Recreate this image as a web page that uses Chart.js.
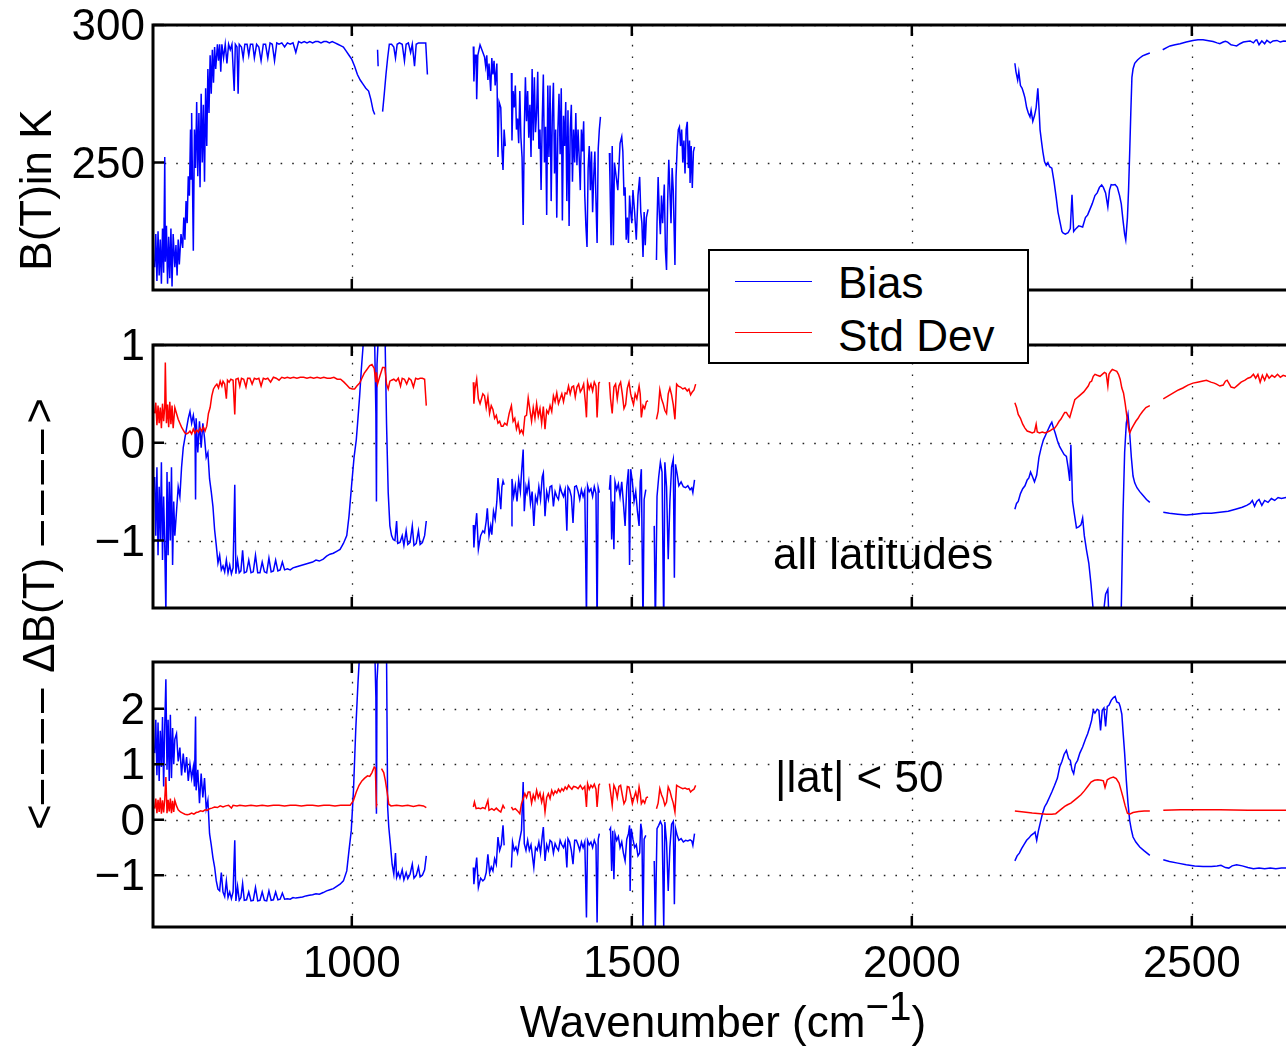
<!DOCTYPE html>
<html>
<head>
<meta charset="utf-8">
<title>Bias and Std Dev vs wavenumber</title>
<script src="https://cdn.jsdelivr.net/npm/chart.js@4.4.1/dist/chart.umd.min.js"></script>
<style>
  html, body { margin: 0; padding: 0; background: #fff; overflow: hidden; }
  #figure { position: relative; width: 1286px; height: 1047px; overflow: hidden;
    font-family: "Liberation Sans", Arial, Helvetica, sans-serif; color: #000; }
  .panel { position: absolute; left: 0; }
  .txt { position: absolute; font-size: 44px; line-height: 52px; white-space: nowrap; z-index: 6; }
  .ylab { position: absolute; font-size: 44px; line-height: 52px; white-space: nowrap;
    transform: translate(-50%, -50%) rotate(-90deg); }
  .dash { letter-spacing: 6px; }
  #legend { position: absolute; left: 708px; top: 249px; width: 321px; height: 115px;
    box-sizing: border-box; border: 2.5px solid #000; background: #fff; z-index: 5; }
  .swatch { position: absolute; height: 0; width: 77px; border-top: 1.5px solid; z-index: 6; }
  sup { font-size: 0.92em; vertical-align: baseline; position: relative; top: -0.42em; line-height: 0; }
</style>
</head>
<body>
<div id="figure">
  <canvas id="topChart" class="panel" width="1330" height="345" style="top:-15px"></canvas>
  <canvas id="allChart" class="panel" width="1330" height="343" style="top:305px"></canvas>
  <canvas id="latChart" class="panel" width="1330" height="425" style="top:622px"></canvas>

  <div class="ylab" style="left:36px; top:190px">B(T)in K</div>
  <div class="ylab" style="left:39px; top:614px">&lt;<span class="dash">&ndash;&ndash;&ndash;&ndash;</span> &Delta;B(T) <span class="dash">&ndash;&ndash;&ndash;&ndash;</span>&gt;</div>

  <div class="txt" style="left:773px; top:528px">all latitudes</div>
  <div class="txt" style="left:775px; top:751px">|lat| &lt; 50</div>
  <div class="txt" style="left:723px; top:996px; transform:translateX(-50%)">Wavenumber (cm<sup>&minus;1</sup>)</div>

  <div id="legend"></div>
  <div class="swatch" style="left:735px; top:281px; border-color:#0000ff"></div>
  <div class="txt" style="left:838px; top:257px">Bias</div>
  <div class="swatch" style="left:735px; top:332px; border-color:#ff0000"></div>
  <div class="txt" style="left:838px; top:310px">Std Dev</div>
</div>

<script>
// axis settings
const xTicks = [1000, 1500, 2000, 2500];
const topTicks = [250, 300];
const allTicks = [-1, 0, 1];
const latTicks = [-1, 0, 1, 2];
const xRange = [645, 2711];
const topRange = [203.7, 300];
const allRange = [-1.69, 1.0];
const latRange = [-1.93, 2.84];

// [wavenumber, value]; null value = no data
const biasTop = [
  [648,212],[650,224],[652,207],[654,225],[656,209],[658,222],[660,206],[662,226],[664,210],[666,252],
  [667,214],[669,227],[671,206],[673,223],[675,208],[677,226],[679,205],[681,224],[684,212],[686,220],
  [688,209],[690,222],[692,213],[695,224],[698,219],[700,230],[702,222],[704,236],[706,228],[708,245],
  [710,238],[712,262],[713,244],[714,268],[717,218],[719,262],[721,248],[723,272],[725,245],[727,268],
  [729,241],[731,275],[733,250],[735,271],[737,243],[739,277],[741,256],[743,284],[745,268],[747,289],
  [749,275],[751,291],[753,279],[755,292],[757,284],[760,293],[762,287],[764,293],[766,283],[768,293],
  [771,288],[774,293],[777,286],[780,293],[783,291],[786,293],[790,276],[792,293],[795,292],[797,275],
  [799,293],[803,292],[806,288],[809,293],[813,293],[816,289],[819,293],[823,293],[826,288],[830,293],
  [834,292],[838,287],[842,293],[846,293],[850,288],[854,293.5],[858,293],[862,287],[866,293.5],[870,293],
  [875,293.5],[880,292],[885,293.5],[890,293],[895,293.5],[900,290],[905,294],[910,293.5],[915,294],[920,293.5],
  [925,294],[930,293.5],[935,294],[940,294],[945,293.5],[950,294],[955,294],[960,293.5],[965,294],[970,293.5],
  [975,293],[980,292.5],[985,292],[990,290.5],[995,289],[1000,287.5],[1005,285],[1010,282],[1015,280],[1020,278.5],
  [1025,277],[1030,276],[1034,273],[1038,269],[1041,267.5],[1044,null],[1046,291],[1047,285],[1050,null],
  [1055,268.5],[1058,275],[1061,282],[1064,288],[1067,293],[1071,293],[1075,292],[1078,288],[1081,293],[1085,293.5],
  [1090,293],[1094,287],[1097,293],[1101,293.5],[1105,290],[1108,293],[1112,285],[1115,293],[1119,293.5],[1123,293.5],
  [1128,293.5],[1132,293.5],[1135,282],[1175,null],
  [1217,292.2],[1218,279.5],[1220,289],[1222,289],[1223,273],[1225,289],[1229,292.8],[1237,288.4],[1239,285],[1241,289],
  [1243,280],[1245,286],[1248,276],[1250,288],[1252,282],[1254,287],[1256,278],[1259,286],[1261,252],[1263,272],
  [1266,270],[1268,255],[1270,247.3],[1272,262],[1274,256],[1278,null],
  [1285,282.6],[1286,258],[1288,276],[1290,270],[1292,278],[1294,262],[1296,266],[1298,257],[1300,276],[1302,259],
  [1304,252],[1306,227.3],[1308,262],[1310,281],[1312,265],[1314,276],[1316,259],[1318,271],[1320,252],[1322,284],
  [1324,258],[1326,281],[1328,261],[1330,268],[1332,283],[1334,255],[1336,262],[1338,240],[1340,265],[1342,282],
  [1344,250],[1346,263],[1348,231],[1350,278],[1352,252],[1354,278],[1356,236],[1358,267],[1360,279],[1362,246],
  [1364,262],[1366,230],[1368,262],[1370,275],[1372,253],[1374,277],[1376,229],[1378,267],[1380,256],[1382,272],
  [1384,236],[1386,269],[1388,227],[1390,262],[1392,271],[1394,243],[1396,262],[1398,250],[1400,268],[1402,249],
  [1404,262],[1406,252],[1408,240],[1410,262],[1412,254],[1414,265],[1416,238],[1418,227],[1420,219.3],[1422,248],
  [1424,256],[1426,240],[1428,254],[1430,232],[1432,245],[1434,254],[1436,236],[1438,220.8],[1440,255],[1442,262],
  [1444,266.6],[1452,null],
  [1460,253.5],[1461,243.7],[1463,220],[1465,256],[1467,220],[1469,250],[1472,245],[1475,240],[1479,257],[1482,259.4],
  [1484,254],[1486,238],[1488,241],[1490,222],[1492,230],[1494,220.8],[1496,238],[1498,232],[1500,228],[1502,240],
  [1505,232],[1508,222],[1511,238],[1514,244.8],[1516,232],[1518,228],[1520,215.7],[1522,232],[1524,220],[1526,230],
  [1529,233],[1536,null],
  [1544,214.6],[1545,228],[1547,244.8],[1549,232],[1551,224],[1553,238],[1555,228],[1558,242],[1560,218],[1562,211],
  [1564,236],[1566,251],[1568,240],[1570,228],[1572,248],[1574,240],[1577,212.8],[1579,245],[1581,255.7],[1583,262],
  [1585,263],[1587,256],[1589,262],[1591,250],[1593,258],[1595,246],[1597,262],[1599,264.8],[1601,248],[1603,258],
  [1604,242.6],[1606,256],[1608,240.8],[1610,254],[1612,255.7],[1900,null],
  [2184,286.1],[2186,283],[2189,280],[2191,283],[2194,278],[2197,277],[2200,275],[2202,273.5],[2205,270],[2208,268],
  [2211,266.6],[2213,269],[2216,265],[2219,267],[2222,270],[2225,277],[2227,270],[2229,261.9],[2232,257],[2234,253.9],
  [2237,250.3],[2240,249],[2243,250],[2246,248.5],[2250,248],[2254,243],[2258,237],[2261,232],[2265,228],[2268,225],
  [2270,224.4],[2274,224],[2279,224.5],[2283,226],[2286,238.3],[2289,225],[2293,226],[2298,227],[2305,226.6],[2310,230],
  [2314,231],[2318,233],[2322,235],[2327,238],[2331,239],[2335,241],[2339,241.9],[2342,241],[2346,239],[2350,233.9],
  [2353,240],[2356,242],[2359,241.9],[2363,242],[2367,241],[2371,238],[2374,235],[2377,229.2],[2380,224],[2382,221.9],
  [2385,230],[2387,240],[2389,253.5],[2391,268],[2393,281],[2395,284],[2398,286.1],[2403,287.3],[2407,288],[2412,288.8],
  [2418,289.3],[2425,289.8],[2436,null],
  [2448,291],[2455,291.8],[2461,292.4],[2470,292.8],[2479,293.2],[2490,293.8],[2502,294.4],[2511,294.6],[2520,294.6],[2530,294.3],
  [2538,294],[2545,293.5],[2550,293.2],[2556,293.8],[2560,294.1],[2564,293.8],[2570,292.8],[2575,292.6],[2580,292.4],[2586,293.2],
  [2592,293.8],[2598,294],[2604,294.2],[2610,293.5],[2614,294.5],[2616,294.6],[2620,292.8],[2625,294.2],[2630,293.2],[2634,294.4],
  [2640,293.5],[2645,294.2],[2652,294.4],[2658,293.8],[2664,294.2],[2670,294.1],[2690,294.3],[2705,294.3]
];

const stdAll = [
  [648,0.30],[650,0.41],[652,0.18],[654,0.38],[656,0.20],[658,0.36],[660,0.15],[662,0.40],[664,0.22],[666,0.37],
  [667,0.82],[669,0.20],[671,0.39],[673,0.16],[675,0.42],[677,0.19],[679,0.38],[681,0.15],[684,0.36],[687,0.30],
  [690,0.24],[693,0.20],[696,0.16],[699,0.13],[702,0.10],[705,0.09],[708,0.10],[711,0.12],[714,0.09],[717,0.14],
  [720,0.10],[723,0.13],[726,0.11],[729,0.15],[732,0.12],[735,0.16],[738,0.12],[741,0.17],[744,0.30],[747,0.36],
  [750,0.48],[753,0.55],[756,0.58],[759,0.60],[762,0.56],[765,0.63],[768,0.58],[770,0.63],[773,0.60],[776,0.45],
  [778,0.64],[781,0.62],[784,0.65],[788,0.64],[791,0.29],[793,0.65],[797,0.66],[800,0.58],[803,0.66],[807,0.65],
  [811,0.57],[814,0.66],[818,0.66],[822,0.60],[826,0.66],[830,0.65],[834,0.66],[838,0.58],[842,0.66],[846,0.65],
  [850,0.66],[855,0.62],[860,0.67],[865,0.66],[870,0.64],[875,0.67],[880,0.66],[885,0.67],[890,0.66],[896,0.67],
  [902,0.66],[908,0.67],[914,0.67],[920,0.66],[926,0.67],[932,0.66],[938,0.67],[944,0.66],[950,0.67],[956,0.66],
  [962,0.66],[968,0.67],[974,0.65],[980,0.65],[986,0.62],[991,0.59],[996,0.56],[1001,0.55],[1005,0.55],[1009,0.58],
  [1014,0.61],[1018,0.66],[1022,0.71],[1027,0.75],[1032,0.79],[1036,0.80],[1040,0.76],[1043,0.62],[1044,0.72],[1046,0.60],
  [1050,0.68],[1055,0.77],[1059,0.77],[1062,0.60],[1065,0.55],[1068,0.63],[1071,0.64],[1075,0.65],[1079,0.63],[1083,0.66],
  [1087,0.58],[1090,0.66],[1094,0.65],[1098,0.60],[1102,0.66],[1106,0.64],[1110,0.57],[1114,0.66],[1118,0.65],[1122,0.66],
  [1126,0.66],[1130,0.65],[1133,0.38],[1175,null],
  [1217,0.62],[1218,0.40],[1220,0.55],[1223,0.65],[1226,0.45],[1229,0.40],[1234,0.50],[1237,0.48],[1240,0.36],[1243,0.47],
  [1246,0.30],[1249,0.38],[1252,0.34],[1255,0.25],[1258,0.28],[1261,0.20],[1264,0.22],[1267,0.17],[1270,0.17],[1273,0.20],
  [1277,0.18],[1281,0.30],[1285,0.38],[1288,0.22],[1291,0.25],[1294,0.14],[1297,0.20],[1300,0.10],[1303,0.13],[1306,0.09],
  [1309,0.27],[1312,0.28],[1315,0.46],[1318,0.34],[1321,0.22],[1324,0.36],[1327,0.25],[1330,0.40],[1333,0.27],[1336,0.35],
  [1339,0.20],[1342,0.37],[1345,0.14],[1348,0.33],[1351,0.30],[1354,0.38],[1357,0.32],[1360,0.48],[1363,0.42],[1366,0.51],
  [1369,0.40],[1372,0.45],[1375,0.50],[1378,0.42],[1381,0.51],[1384,0.50],[1387,0.58],[1390,0.50],[1393,0.57],[1396,0.58],
  [1399,0.47],[1402,0.57],[1405,0.60],[1408,0.52],[1411,0.55],[1414,0.60],[1417,0.42],[1419,0.26],[1421,0.62],[1424,0.55],
  [1427,0.60],[1430,0.53],[1433,0.62],[1436,0.58],[1438,0.26],[1441,0.61],[1443,0.62],[1452,null],
  [1460,0.62],[1462,0.45],[1465,0.30],[1468,0.57],[1471,0.60],[1474,0.45],[1477,0.58],[1480,0.62],[1483,0.50],[1486,0.35],
  [1489,0.39],[1492,0.56],[1495,0.62],[1498,0.50],[1500,0.45],[1503,0.39],[1506,0.50],[1509,0.45],[1513,0.58],[1515,0.50],
  [1517,0.26],[1520,0.38],[1523,0.35],[1526,0.42],[1529,0.43],[1536,null],
  [1544,0.24],[1547,0.32],[1550,0.54],[1553,0.45],[1556,0.40],[1559,0.33],[1562,0.30],[1565,0.50],[1568,0.56],[1571,0.49],
  [1574,0.39],[1577,0.24],[1580,0.60],[1583,0.58],[1587,0.57],[1591,0.55],[1595,0.56],[1599,0.53],[1602,0.55],[1605,0.49],
  [1608,0.52],[1611,0.54],[1614,0.60],[1900,null],
  [2184,0.41],[2187,0.36],[2190,0.29],[2194,0.25],[2198,0.19],[2202,0.15],[2206,0.12],[2211,0.11],[2215,0.10],[2219,0.11],
  [2222,0.19],[2224,0.11],[2228,0.10],[2233,0.11],[2238,0.10],[2242,0.11],[2246,0.12],[2251,0.14],[2255,0.15],[2259,0.18],
  [2263,0.22],[2266,0.24],[2270,0.28],[2273,0.31],[2276,0.31],[2279,0.28],[2282,0.26],[2285,0.32],[2288,0.38],[2291,0.44],
  [2295,0.46],[2299,0.48],[2303,0.50],[2307,0.52],[2311,0.55],[2315,0.58],[2318,0.62],[2321,0.63],[2324,0.68],[2327,0.70],
  [2331,0.69],[2336,0.68],[2340,0.70],[2344,0.72],[2347,0.71],[2350,0.58],[2352,0.70],[2355,0.73],[2358,0.75],[2362,0.74],
  [2366,0.73],[2369,0.70],[2372,0.65],[2375,0.56],[2378,0.51],[2381,0.40],[2384,0.27],[2387,0.15],[2389,0.10],[2392,0.14],
  [2396,0.18],[2400,0.22],[2404,0.25],[2407,0.28],[2412,0.32],[2418,0.36],[2425,0.38],[2436,null],
  [2449,0.45],[2458,0.48],[2467,0.51],[2476,0.54],[2484,0.56],[2493,0.59],[2502,0.61],[2510,0.62],[2518,0.63],[2526,0.64],
  [2534,0.62],[2540,0.61],[2544,0.60],[2550,0.58],[2556,0.59],[2560,0.63],[2563,0.64],[2567,0.60],[2570,0.57],[2576,0.56],
  [2582,0.59],[2588,0.62],[2595,0.64],[2600,0.66],[2605,0.67],[2610,0.70],[2614,0.66],[2618,0.70],[2622,0.62],[2626,0.69],
  [2630,0.64],[2634,0.70],[2638,0.66],[2643,0.69],[2648,0.67],[2653,0.70],[2658,0.67],[2663,0.69],[2668,0.68],[2690,0.68],[2705,0.68]
];

const biasAll = [
  [648,-0.35],[650,-0.95],[652,-0.25],[654,-1.15],[656,-0.45],[658,-1.00],[660,-0.20],[662,-1.20],[664,-0.55],[666,-1.05],
  [668,-1.75],[670,-0.30],[672,-1.15],[674,-0.40],[676,-1.00],[678,-0.25],[680,-1.25],[682,-0.60],[684,-0.95],[687,-0.70],
  [690,-0.45],[693,-0.55],[696,-0.25],[699,-0.05],[702,0.05],[705,0.15],[708,0.25],[711,0.32],[714,0.20],[717,0.28],
  [720,0.15],[721,-0.58],[722,0.25],[725,-0.10],[728,0.22],[731,-0.05],[734,0.20],[737,0.05],[740,-0.15],[743,-0.10],
  [746,-0.37],[749,-0.50],[752,-0.65],[755,-0.89],[758,-1.05],[761,-1.23],[764,-1.15],[767,-1.30],[770,-1.26],[773,-1.32],
  [776,-1.20],[779,-1.33],[782,-1.25],[785,-1.34],[788,-1.28],[791,-0.43],[793,-1.34],[796,-1.20],[799,-1.33],[802,-1.31],
  [805,-1.10],[808,-1.33],[812,-1.32],[816,-1.20],[820,-1.33],[824,-1.32],[828,-1.15],[832,-1.33],[836,-1.33],[840,-1.22],
  [844,-1.32],[848,-1.33],[852,-1.18],[856,-1.32],[860,-1.31],[864,-1.20],[868,-1.31],[872,-1.30],[876,-1.22],[880,-1.30],
  [885,-1.29],[890,-1.30],[895,-1.28],[900,-1.27],[906,-1.26],[912,-1.25],[918,-1.24],[924,-1.23],[930,-1.22],[936,-1.20],
  [942,-1.21],[949,-1.19],[955,-1.16],[961,-1.14],[967,-1.13],[973,-1.11],[979,-1.09],[985,-1.03],[991,-0.95],[995,-0.75],
  [1000,-0.41],[1004,-0.15],[1008,0.03],[1011,0.25],[1014,0.48],[1017,0.75],[1020,0.98],[1024,1.3],[1030,1.6],[1035,1.5],
  [1040,1.3],[1043,0.3],[1044,-0.6],[1045,0.8],[1050,1.4],[1055,1.6],[1059,1.2],[1062,0.2],[1065,-0.51],[1068,-0.85],
  [1071,-0.95],[1074,-0.99],[1077,-1.00],[1080,-0.80],[1082,-1.03],[1086,-1.02],[1090,-0.95],[1093,-1.05],[1097,-0.90],[1100,-1.04],
  [1104,-1.02],[1108,-0.85],[1111,-1.05],[1115,-1.03],[1119,-0.90],[1122,-1.04],[1126,-1.02],[1130,-0.95],[1133,-0.80],[1175,null],
  [1217,-0.84],[1218,-1.07],[1220,-0.90],[1223,-0.72],[1226,-1.09],[1230,-0.95],[1234,-0.90],[1237,-0.92],[1240,-0.80],[1242,-0.67],
  [1245,-0.95],[1248,-0.85],[1250,-0.94],[1253,-0.70],[1256,-0.78],[1259,-0.60],[1261,-0.36],[1264,-0.55],[1266,-0.68],[1268,-0.45],
  [1270,-0.39],[1272,-0.43],[1278,null],
  [1285,-0.85],[1286,-0.37],[1289,-0.55],[1292,-0.44],[1295,-0.60],[1298,-0.38],[1301,-0.50],[1303,-0.31],[1306,-0.07],[1308,-0.70],
  [1311,-0.45],[1313,-0.51],[1316,-0.40],[1319,-0.62],[1322,-0.50],[1325,-0.85],[1328,-0.55],[1331,-0.61],[1334,-0.45],[1337,-0.58],
  [1340,-0.35],[1342,-0.31],[1345,-0.75],[1348,-0.50],[1351,-0.58],[1354,-0.45],[1357,-0.44],[1360,-0.65],[1363,-0.50],[1366,-0.55],
  [1369,-0.58],[1372,-0.45],[1375,-0.51],[1378,-0.55],[1381,-0.48],[1384,-0.90],[1386,-0.45],[1389,-0.48],[1392,-0.55],[1395,-0.82],
  [1398,-0.45],[1401,-0.44],[1404,-0.50],[1407,-0.58],[1410,-0.48],[1413,-0.55],[1416,-0.49],[1419,-1.80],[1421,-0.44],[1424,-0.50],
  [1427,-0.47],[1430,-0.55],[1433,-0.45],[1436,-0.52],[1438,-1.90],[1440,-0.46],[1442,-0.51],[1452,null],
  [1460,-0.48],[1462,-0.33],[1464,-0.99],[1466,-0.60],[1468,-1.09],[1470,-0.40],[1473,-0.48],[1476,-0.42],[1479,-0.55],[1482,-0.40],
  [1485,-0.62],[1488,-0.85],[1491,-0.45],[1494,-0.27],[1496,-1.25],[1498,-0.27],[1501,-0.40],[1504,-0.60],[1507,-0.50],[1510,-0.70],
  [1513,-0.85],[1515,-0.40],[1517,-0.27],[1520,-1.90],[1522,-0.58],[1525,-0.48],[1532,null],
  [1540,-0.85],[1542,-1.90],[1545,-0.55],[1548,-0.35],[1551,-0.20],[1554,-0.30],[1557,-1.90],[1559,-0.20],[1562,-0.45],[1565,-1.19],
  [1568,-0.60],[1571,-0.25],[1574,-0.17],[1576,-1.38],[1578,-0.22],[1581,-0.32],[1584,-0.44],[1588,-0.40],[1592,-0.45],[1596,-0.46],
  [1600,-0.44],[1604,-0.48],[1607,-0.46],[1609,-0.51],[1612,-0.38],[1900,null],
  [2184,-0.68],[2187,-0.62],[2190,-0.60],[2194,-0.52],[2198,-0.47],[2202,-0.44],[2206,-0.38],[2209,-0.36],[2212,-0.30],[2215,-0.34],
  [2219,-0.40],[2223,-0.33],[2227,-0.15],[2231,-0.05],[2235,0.03],[2239,0.08],[2243,0.13],[2247,0.18],[2250,0.21],[2253,0.15],
  [2256,0.10],[2260,0.02],[2264,-0.04],[2268,-0.08],[2272,-0.12],[2276,-0.14],[2279,-0.25],[2282,-0.39],[2284,-0.02],[2287,-0.60],
  [2290,-0.72],[2294,-0.87],[2298,-0.86],[2302,-0.84],[2305,-0.77],[2308,-0.95],[2312,-1.10],[2316,-1.23],[2320,-1.45],[2324,-1.72],
  [2330,-1.85],[2336,-1.80],[2342,-1.75],[2346,-1.55],[2350,-1.50],[2352,-1.80],[2360,-1.85],[2370,-1.80],[2374,-1.70],[2377,-0.75],
  [2380,-0.10],[2383,0.20],[2386,0.29],[2389,0.10],[2392,-0.15],[2395,-0.34],[2398,-0.41],[2402,-0.46],[2407,-0.50],[2413,-0.54],
  [2419,-0.58],[2425,-0.61],[2436,null],
  [2449,-0.71],[2460,-0.72],[2475,-0.73],[2490,-0.74],[2505,-0.73],[2520,-0.72],[2535,-0.72],[2550,-0.71],[2565,-0.70],[2578,-0.68],
  [2590,-0.66],[2598,-0.64],[2604,-0.62],[2608,-0.59],[2612,-0.65],[2616,-0.60],[2620,-0.58],[2625,-0.64],[2630,-0.59],[2636,-0.61],
  [2642,-0.57],[2648,-0.59],[2654,-0.56],[2660,-0.57],[2668,-0.56],[2690,-0.56],[2705,-0.55]
];

const stdLat = [
  [648,0.20],[650,0.38],[652,0.12],[654,0.36],[656,0.14],[658,0.40],[660,0.11],[662,0.35],[664,0.13],[666,0.37],
  [668,0.77],[670,0.12],[672,0.36],[674,0.15],[676,0.38],[678,0.12],[680,0.34],[682,0.14],[684,0.35],[687,0.25],
  [690,0.18],[694,0.14],[698,0.12],[702,0.10],[706,0.09],[710,0.10],[714,0.12],[718,0.10],[722,0.13],[726,0.14],
  [730,0.16],[734,0.15],[738,0.18],[742,0.17],[746,0.20],[750,0.21],[755,0.23],[760,0.22],[765,0.25],[770,0.23],
  [775,0.25],[780,0.26],[785,0.21],[788,0.26],[795,0.25],[800,0.26],[810,0.25],[820,0.26],[830,0.25],[840,0.26],
  [850,0.25],[860,0.26],[870,0.26],[880,0.25],[890,0.26],[900,0.26],[910,0.25],[920,0.26],[930,0.26],[940,0.25],
  [950,0.26],[960,0.26],[970,0.25],[980,0.26],[990,0.26],[997,0.26],[1003,0.35],[1008,0.50],[1013,0.62],[1018,0.70],
  [1023,0.75],[1028,0.79],[1032,0.78],[1036,0.85],[1040,0.95],[1042,0.93],[1044,0.26],[1045,0.29],[1050,null],
  [1053,0.92],[1057,0.85],[1060,0.70],[1063,0.50],[1066,0.28],[1070,0.25],[1080,0.26],[1090,0.25],[1100,0.26],[1110,0.24],
  [1120,0.26],[1128,0.25],[1133,0.22],[1175,null],
  [1217,0.23],[1219,0.32],[1222,0.20],[1226,0.21],[1230,0.20],[1234,0.22],[1238,0.20],[1243,0.35],[1245,0.17],[1250,0.20],
  [1254,0.17],[1258,0.21],[1262,0.17],[1266,0.14],[1270,0.26],[1273,0.20],[1278,null],
  [1285,0.23],[1288,0.18],[1292,0.20],[1296,0.16],[1300,0.11],[1303,0.29],[1306,0.38],[1309,0.47],[1312,0.40],[1315,0.50],
  [1318,0.50],[1321,0.30],[1324,0.45],[1327,0.36],[1330,0.53],[1333,0.40],[1336,0.48],[1339,0.32],[1342,0.45],[1345,0.14],
  [1348,0.40],[1351,0.47],[1354,0.38],[1357,0.53],[1360,0.45],[1363,0.52],[1366,0.48],[1369,0.55],[1372,0.50],[1375,0.56],
  [1378,0.52],[1381,0.59],[1384,0.55],[1387,0.62],[1390,0.58],[1393,0.55],[1396,0.60],[1400,0.59],[1404,0.56],[1408,0.62],
  [1412,0.55],[1416,0.60],[1419,0.23],[1421,0.65],[1424,0.55],[1427,0.62],[1430,0.58],[1433,0.64],[1436,0.55],[1438,0.23],
  [1441,0.62],[1443,0.65],[1452,null],
  [1460,0.65],[1462,0.50],[1465,0.26],[1468,0.62],[1471,0.55],[1474,0.40],[1477,0.60],[1480,0.62],[1483,0.45],[1486,0.29],
  [1489,0.35],[1492,0.60],[1495,0.59],[1498,0.45],[1501,0.29],[1504,0.40],[1507,0.50],[1510,0.35],[1513,0.59],[1515,0.48],
  [1517,0.29],[1520,0.35],[1523,0.30],[1526,0.40],[1529,0.41],[1536,null],
  [1544,0.20],[1547,0.30],[1550,0.56],[1553,0.45],[1556,0.38],[1559,0.26],[1562,0.32],[1565,0.59],[1568,0.52],[1571,0.40],
  [1574,0.30],[1577,0.14],[1580,0.62],[1583,0.60],[1587,0.58],[1591,0.56],[1595,0.57],[1599,0.55],[1602,0.56],[1605,0.50],
  [1608,0.53],[1611,0.55],[1614,0.62],[1900,null],
  [2184,0.16],[2200,0.14],[2215,0.12],[2230,0.11],[2240,0.10],[2250,0.10],[2257,0.11],[2262,0.15],[2268,0.20],[2273,0.24],
  [2278,0.27],[2284,0.30],[2290,0.35],[2296,0.40],[2302,0.45],[2308,0.52],[2314,0.60],[2320,0.68],[2326,0.71],[2332,0.72],
  [2338,0.71],[2342,0.70],[2345,0.58],[2349,0.72],[2354,0.75],[2360,0.77],[2365,0.74],[2370,0.66],[2374,0.52],[2377,0.41],
  [2381,0.25],[2385,0.12],[2389,0.10],[2395,0.13],[2405,0.15],[2415,0.16],[2425,0.16],[2436,null],
  [2449,0.17],[2480,0.18],[2514,0.18],[2550,0.18],[2600,0.17],[2640,0.17],[2668,0.17],[2705,0.17]
];

const biasLat = [
  [648,1.20],[650,1.80],[652,0.80],[654,1.75],[656,0.70],[658,1.60],[660,0.95],[662,1.85],[664,0.60],[666,1.70],
  [668,2.53],[670,0.90],[672,1.80],[674,0.70],[676,1.89],[678,0.75],[680,1.65],[682,1.00],[684,1.45],[687,1.55],
  [690,1.05],[693,1.30],[696,0.80],[699,1.19],[702,0.85],[705,1.13],[708,0.70],[711,1.00],[714,0.75],[717,0.95],
  [719,0.60],[721,1.86],[722,0.53],[725,0.90],[728,0.30],[731,0.83],[734,0.40],[737,0.75],[740,0.20],[743,0.35],
  [746,-0.25],[749,-0.45],[752,-0.68],[755,-0.85],[758,-1.10],[761,-1.25],[764,-1.28],[767,-0.95],[770,-1.30],[773,-1.38],
  [776,-1.10],[779,-1.40],[782,-1.30],[785,-1.42],[788,-1.30],[791,-0.37],[793,-1.46],[796,-1.20],[799,-1.45],[802,-1.40],
  [805,-1.15],[808,-1.45],[812,-1.44],[816,-1.30],[820,-1.46],[824,-1.45],[828,-1.22],[832,-1.46],[836,-1.45],[840,-1.30],
  [844,-1.45],[848,-1.46],[852,-1.28],[856,-1.45],[860,-1.44],[864,-1.30],[868,-1.44],[872,-1.43],[876,-1.32],[880,-1.43],
  [885,-1.42],[890,-1.43],[895,-1.40],[900,-1.41],[906,-1.40],[912,-1.39],[918,-1.37],[924,-1.36],[930,-1.35],[936,-1.33],
  [942,-1.34],[949,-1.31],[955,-1.28],[961,-1.26],[967,-1.24],[973,-1.20],[979,-1.16],[985,-1.10],[991,-0.92],[995,-0.55],
  [999,-0.20],[1003,0.53],[1007,1.61],[1011,2.46],[1014,3.0],[1020,3.6],[1030,3.8],[1040,3.5],[1043,2.2],[1044,0.11],
  [1045,2.5],[1050,3.5],[1058,3.6],[1062,3.0],[1064,0.23],[1066,-0.13],[1069,-0.45],[1072,-0.80],[1075,-0.98],[1078,-0.60],
  [1080,-1.04],[1083,-0.95],[1086,-1.05],[1090,-0.90],[1093,-1.08],[1097,-0.95],[1100,-1.06],[1104,-0.98],[1108,-0.80],[1111,-1.05],
  [1115,-1.00],[1119,-0.85],[1122,-1.03],[1126,-1.00],[1130,-0.90],[1133,-0.65],[1175,null],
  [1217,-0.86],[1218,-1.16],[1220,-0.95],[1223,-0.68],[1226,-1.22],[1230,-1.05],[1234,-1.10],[1237,-1.07],[1240,-0.95],[1243,-0.62],
  [1246,-0.95],[1249,-0.85],[1252,-0.92],[1255,-0.70],[1258,-0.80],[1261,-0.31],[1264,-0.55],[1267,-0.45],[1270,-0.10],[1272,-0.46],
  [1278,null],
  [1285,-0.86],[1287,-0.40],[1290,-0.55],[1293,-0.49],[1296,-0.60],[1299,-0.40],[1303,-0.19],[1306,0.68],[1308,-0.43],[1311,-0.55],
  [1314,-0.37],[1317,-0.55],[1320,-0.45],[1325,-0.86],[1328,-0.50],[1331,-0.55],[1334,-0.40],[1337,-0.60],[1340,-0.30],[1342,-0.13],
  [1345,-0.74],[1348,-0.45],[1351,-0.55],[1354,-0.37],[1357,-0.40],[1360,-0.60],[1363,-0.43],[1366,-0.50],[1369,-0.55],[1372,-0.37],
  [1375,-0.45],[1378,-0.50],[1381,-0.40],[1384,-0.86],[1386,-0.34],[1389,-0.40],[1392,-0.55],[1395,-0.80],[1398,-0.37],[1401,-0.37],
  [1404,-0.45],[1407,-0.55],[1410,-0.40],[1413,-0.50],[1416,-0.40],[1419,-1.76],[1421,-0.37],[1424,-0.45],[1427,-0.40],[1430,-0.50],
  [1433,-0.37],[1436,-0.45],[1438,-1.85],[1440,-0.35],[1442,-0.25],[1452,null],
  [1460,-0.19],[1462,-0.15],[1464,-0.92],[1466,-0.20],[1468,-1.07],[1470,-0.25],[1473,-0.37],[1476,-0.30],[1479,-0.50],[1482,-0.40],
  [1485,-0.60],[1488,-0.74],[1491,-0.35],[1494,-0.25],[1496,-0.10],[1497,-1.28],[1499,-0.16],[1502,-0.35],[1505,-0.50],[1508,-0.45],
  [1511,-0.65],[1514,-0.60],[1516,-0.07],[1518,-0.20],[1520,-1.94],[1522,-0.35],[1525,-0.28],[1532,null],
  [1540,-0.74],[1542,-1.94],[1545,-0.16],[1548,-0.10],[1551,-0.03],[1554,-0.10],[1557,-1.94],[1559,-0.04],[1562,-0.40],[1565,-1.28],
  [1568,-0.50],[1571,-0.08],[1574,-0.03],[1576,-1.52],[1578,-0.15],[1581,-0.28],[1584,-0.37],[1588,-0.34],[1592,-0.40],[1596,-0.37],
  [1600,-0.38],[1604,-0.36],[1607,-0.38],[1609,-0.46],[1612,-0.25],[1900,null],
  [2184,-0.74],[2188,-0.65],[2192,-0.60],[2196,-0.52],[2200,-0.45],[2205,-0.37],[2209,-0.33],[2213,-0.28],[2217,-0.25],[2220,-0.22],
  [2223,-0.37],[2226,-0.20],[2229,-0.07],[2233,0.10],[2237,0.23],[2241,0.30],[2246,0.41],[2250,0.50],[2255,0.62],[2260,0.75],
  [2264,0.95],[2268,1.05],[2272,1.18],[2276,1.25],[2280,1.10],[2283,1.07],[2286,0.90],[2289,0.83],[2292,1.00],[2296,1.07],
  [2300,1.20],[2305,1.31],[2310,1.45],[2314,1.55],[2318,1.68],[2321,1.79],[2324,1.97],[2327,1.92],[2331,1.99],[2334,1.97],
  [2337,1.61],[2340,1.97],[2343,2.01],[2346,1.68],[2349,2.04],[2352,2.06],[2356,2.15],[2360,2.20],[2363,2.22],[2366,2.12],
  [2370,2.10],[2372,2.04],[2375,1.90],[2377,1.61],[2380,1.20],[2383,0.71],[2386,0.30],[2389,-0.01],[2392,-0.18],[2395,-0.31],
  [2400,-0.40],[2407,-0.49],[2415,-0.56],[2425,-0.64],[2436,null],
  [2449,-0.72],[2460,-0.75],[2475,-0.78],[2490,-0.81],[2505,-0.83],[2520,-0.84],[2535,-0.84],[2545,-0.83],[2552,-0.82],[2560,-0.86],
  [2566,-0.87],[2572,-0.83],[2580,-0.81],[2590,-0.83],[2600,-0.86],[2610,-0.88],[2620,-0.87],[2630,-0.88],[2640,-0.87],[2650,-0.88],
  [2660,-0.87],[2668,-0.87],[2705,-0.87]
];

const FONT = { family: '"Liberation Sans", Arial, Helvetica, sans-serif', size: 44 };
const BLUE = '#0000ff';
const RED = '#ff0000';

function toPoints(pairs) {
  return pairs.map(p => ({ x: p[0], y: p[1] }));
}

function minusLabel(v) {
  return v < 0 ? '\u2212' + Math.abs(v) : String(v);
}

// dotted grid under the data, frame and inward ticks on top of it
const framePlugin = {
  id: 'frame',
  beforeDatasetsDraw(chart) {
    const { ctx, chartArea: a, scales: { x, y } } = chart;
    ctx.save();
    ctx.strokeStyle = '#222';
    ctx.lineWidth = 1.3;
    ctx.setLineDash([1.6, 10]);
    ctx.beginPath();
    x.ticks.forEach(t => {
      const px = Math.round(x.getPixelForValue(t.value)) + 0.5;
      ctx.moveTo(px, a.bottom);
      ctx.lineTo(px, a.top);
    });
    y.ticks.forEach(t => {
      const py = Math.round(y.getPixelForValue(t.value)) + 0.5;
      ctx.moveTo(a.left, py);
      ctx.lineTo(a.right, py);
    });
    ctx.stroke();
    ctx.restore();
  },
  afterDatasetsDraw(chart) {
    const { ctx, chartArea: a, scales: { x, y } } = chart;
    ctx.save();
    ctx.strokeStyle = '#000';
    ctx.lineJoin = 'miter';
    ctx.lineWidth = 3;
    ctx.beginPath();
    ctx.moveTo(a.right, a.top);
    ctx.lineTo(a.left, a.top);
    ctx.lineTo(a.left, a.bottom);
    ctx.lineTo(a.right, a.bottom);
    ctx.stroke();
    ctx.lineWidth = 2.5;
    ctx.beginPath();
    x.ticks.forEach(t => {
      const px = x.getPixelForValue(t.value);
      ctx.moveTo(px, a.top);
      ctx.lineTo(px, a.top + 11);
      ctx.moveTo(px, a.bottom);
      ctx.lineTo(px, a.bottom - 11);
    });
    y.ticks.forEach(t => {
      const py = y.getPixelForValue(t.value);
      ctx.moveTo(a.left, py);
      ctx.lineTo(a.left + 11, py);
    });
    ctx.stroke();
    ctx.restore();
  }
};

function makePanel(id, series, yRange, yTicks, showXLabels, xAxisHeight) {
  return new Chart(document.getElementById(id), {
    type: 'line',
    data: {
      datasets: series.map(s => ({
        label: s.label,
        data: toPoints(s.data),
        borderColor: s.color,
        borderWidth: 1.5,
        pointRadius: 0,
        tension: 0,
        spanGaps: false,
        order: s.order
      }))
    },
    options: {
      responsive: false,
      animation: false,
      devicePixelRatio: 1,
      events: [],
      layout: { padding: { top: 40, right: 20, bottom: 0, left: 0 } },
      plugins: { legend: { display: false }, tooltip: { enabled: false } },
      scales: {
        x: {
          type: 'linear',
          min: xRange[0],
          max: xRange[1],
          afterBuildTicks: axis => { axis.ticks = xTicks.map(v => ({ value: v })); },
          afterFit: axis => { axis.height = xAxisHeight; },
          grid: { display: false, drawTicks: false },
          border: { display: false },
          ticks: {
            display: showXLabels,
            font: FONT,
            color: '#000',
            padding: 11,
            maxRotation: 0,
            autoSkip: false,
            callback: v => String(v)
          }
        },
        y: {
          type: 'linear',
          min: yRange[0],
          max: yRange[1],
          afterBuildTicks: axis => { axis.ticks = yTicks.map(v => ({ value: v })); },
          afterFit: axis => { axis.width = 153; },
          grid: { display: false, drawTicks: false },
          border: { display: false },
          ticks: {
            font: FONT,
            color: '#000',
            padding: 8,
            labelOffset: 3,
            autoSkip: false,
            callback: v => minusLabel(v)
          }
        }
      }
    },
    plugins: [framePlugin]
  });
}

makePanel('topChart', [
  { label: 'Bias', data: biasTop, color: BLUE, order: 1 }
], topRange, topTicks, false, 40);

makePanel('allChart', [
  { label: 'Bias', data: biasAll, color: BLUE, order: 1 },
  { label: 'Std Dev', data: stdAll, color: RED, order: 0 }
], allRange, allTicks, false, 40);

makePanel('latChart', [
  { label: 'Bias', data: biasLat, color: BLUE, order: 1 },
  { label: 'Std Dev', data: stdLat, color: RED, order: 0 }
], latRange, latTicks, true, 120);
</script>
</body>
</html>
